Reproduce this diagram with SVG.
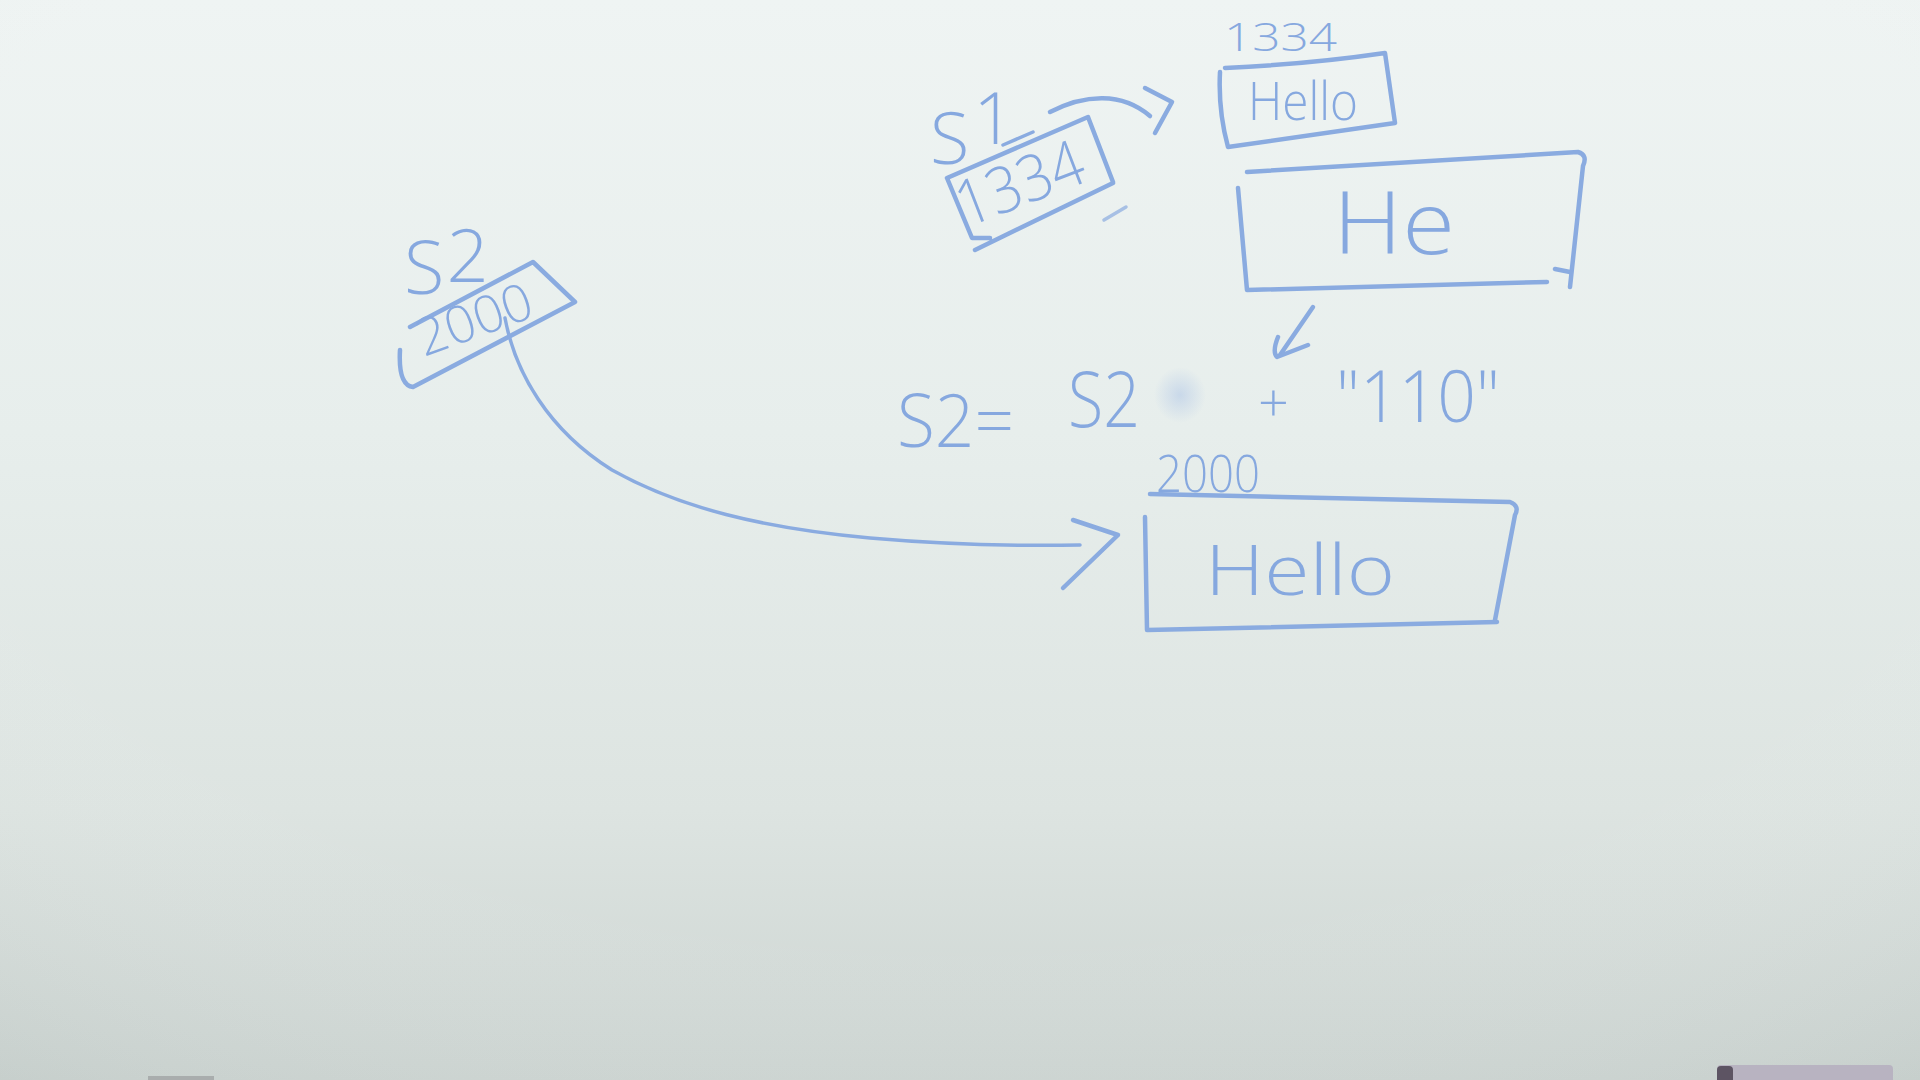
<svg xmlns="http://www.w3.org/2000/svg" width="1920" height="1080" viewBox="0 0 1920 1080">
  <defs>
    <linearGradient id="bg" x1="0" y1="0" x2="0" y2="1">
      <stop offset="0" stop-color="#eff4f3"/>
      <stop offset="0.4" stop-color="#e7eeec"/>
      <stop offset="0.75" stop-color="#dde4e1"/>
      <stop offset="1" stop-color="#ccd4d1"/>
    </linearGradient>
    <radialGradient id="vig" cx="0.5" cy="0.35" r="0.85">
      <stop offset="0.6" stop-color="#ffffff" stop-opacity="0"/>
      <stop offset="1" stop-color="#a4afac" stop-opacity="0.18"/>
    </radialGradient>
    <radialGradient id="smudge" cx="0.5" cy="0.5" r="0.5">
      <stop offset="0" stop-color="#aac2e6" stop-opacity="0.5"/>
      <stop offset="1" stop-color="#aac2e6" stop-opacity="0"/>
    </radialGradient>
  </defs>
  <style>
    .ink { fill: none; stroke: #8aabe0; stroke-width: 4.5; stroke-linecap: round; stroke-linejoin: round; }
    .thin { stroke-width: 3.5; }
    .t { fill: #86a8df; font-family: "Open Sans", "Liberation Sans", "DejaVu Sans", sans-serif; font-weight: 300; }
  </style>

  <rect width="1920" height="1080" fill="url(#bg)"/>
  <rect width="1920" height="1080" fill="url(#vig)"/>
  <!-- tray bits at bottom -->
  <rect x="1717" y="1065" width="176" height="20" rx="4" fill="#b8b3c1"/>
  <rect x="1717" y="1066" width="16" height="18" rx="4" fill="#5d5463"/>
  <rect x="148" y="1076" width="66" height="6" fill="#a9adad"/>

  <!-- S1 variable -->
  <g id="s1">
    <text class="t" x="930" y="164" font-size="72">S<tspan dx="4" dy="-20">1</tspan></text>
    <path class="ink thin" d="M1003,145 L1033,132"/>
    <path class="ink" d="M947,178 L1088,117 L1113,182 M947,178 L972,238 L990,238 M975,250 L1113,183"/>
    <text class="t" x="0" y="0" font-size="64" textLength="132" lengthAdjust="spacingAndGlyphs" transform="translate(966,228) rotate(-21)">1334</text>
    <path class="ink thin" d="M1104,220 L1126,207" opacity="0.7"/>
  </g>

  <!-- small Hello at 1334 -->
  <g id="hello-1334">
    <text class="t" x="1224" y="51" font-size="38" textLength="113" lengthAdjust="spacingAndGlyphs">1334</text>
    <path class="ink" d="M1225,68 Q1310,64 1385,53 L1395,123 L1228,147 Q1218,110 1220,72"/>
    <text class="t" x="1248" y="120" font-size="54" textLength="110" lengthAdjust="spacingAndGlyphs">Hello</text>
  </g>

  <!-- He box -->
  <g id="he">
    <path class="ink" d="M1247,172 L1578,152 Q1588,155 1583,166 L1570,287"/>
    <path class="ink" d="M1238,188 L1247,290 L1547,282 M1555,269 L1570,272"/>
    <text class="t" x="1333" y="254" font-size="86" textLength="122" lengthAdjust="spacingAndGlyphs">He</text>
  </g>

  <!-- S2 variable -->
  <g id="s2">
    <text class="t" x="404" y="294" font-size="74">S<tspan dx="2" dy="-12">2</tspan></text>
    <path class="ink" d="M410,327 L533,262 L575,302 L413,387 Q398,385 400,350"/>
    <text class="t" x="0" y="0" font-size="52" textLength="120" lengthAdjust="spacingAndGlyphs" transform="translate(424,357) rotate(-20)">2000</text>
  </g>

  <!-- expression -->
  <g id="expr">
    <text class="t" x="897" y="447" font-size="74" textLength="117" lengthAdjust="spacingAndGlyphs">S2=</text>
    <text class="t" x="1068" y="427" font-size="78" textLength="72" lengthAdjust="spacingAndGlyphs">S2</text>
    <ellipse cx="1180" cy="395" rx="26" ry="28" fill="url(#smudge)"/>
    <text class="t" x="1258" y="422" font-size="54">+</text>
    <text class="t" x="1336" y="422" font-size="72" textLength="164" lengthAdjust="spacingAndGlyphs">"110"</text>
  </g>

  <!-- Hello at 2000 -->
  <g id="hello-2000">
    <text class="t" x="1156" y="492" font-size="52" textLength="104" lengthAdjust="spacingAndGlyphs">2000</text>
    <path class="ink" d="M1150,494 L1510,502 Q1520,506 1515,515 L1495,620"/>
    <path class="ink" d="M1145,517 L1147,630 L1497,622"/>
    <text class="t" x="1205" y="595" font-size="70" textLength="190" lengthAdjust="spacingAndGlyphs">Hello</text>
  </g>

  <!-- connectors -->
  <g id="connectors">
    <path class="ink" d="M1050,112 C1085,94 1122,92 1150,116"/>
    <path class="ink" d="M1145,88 L1172,102 L1155,133"/>
    <path class="ink" d="M1313,307 L1280,355"/>
    <path class="ink" d="M1278,337 Q1272,352 1277,357 L1308,345"/>
    <path class="ink thin" d="M505,318 C515,372 548,430 612,470 C680,508 762,528 870,538 C950,545 1020,546 1080,545"/>
    <path class="ink" d="M1073,520 L1118,535 L1063,588"/>
  </g>
</svg>
